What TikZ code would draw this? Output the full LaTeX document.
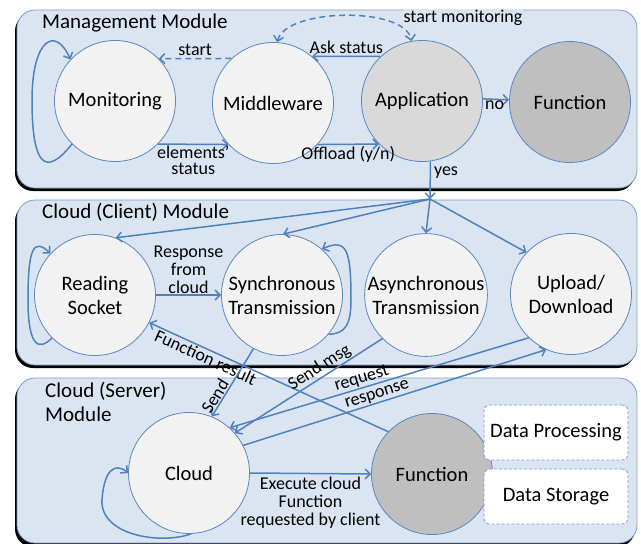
\documentclass[tikz,border=0pt]{standalone}
\usepackage{fontspec}
\setmainfont{Carlito}
\usetikzlibrary{arrows.meta}
\definecolor{boxfill}{HTML}{DBE5F1}
\definecolor{boxdraw}{HTML}{7C9CCB}
\definecolor{circd}{HTML}{5B87C0}
\definecolor{arrc}{HTML}{4F81BD}
\definecolor{lightc}{HTML}{F2F2F2}
\definecolor{appc}{HTML}{D9D9D9}
\definecolor{func}{HTML}{BFBFBF}
\begin{document}
\begin{tikzpicture}[x=1pt,y=-1pt,
  state/.style={circle, draw=circd, line width=0.8pt, minimum size=121pt, inner sep=0pt,
    align=center, font=\fontsize{20.5}{24}\selectfont, fill=lightc},
  arr/.style={draw=arrc, line width=1.5pt, -{Straight Barb[length=5pt,width=10pt]}},
  dasharr/.style={arr, dash pattern=on 6pt off 4pt},
  lbl/.style={font=\fontsize{18}{18}\selectfont, inner sep=2pt, align=center, text=black},
  modlbl/.style={font=\fontsize{21}{24}\selectfont, inner sep=0pt, align=left},
  modbox/.style={fill=boxfill, draw=boxdraw, line width=0.8pt, rounded corners=18pt},
  shadowbox/.style={fill=black, rounded corners=18pt},
  databox/.style={draw=boxdraw, dash pattern=on 3pt off 2pt, line width=0.8pt, fill=white,
    rounded corners=6pt, minimum width=144pt, minimum height=55pt, inner sep=0pt,
    font=\fontsize{20.5}{24}\selectfont}
]
\useasboundingbox (0,0) rectangle (641,544);

% module boxes
\fill[shadowbox] (15,13) rectangle (635,191);
\draw[modbox] (17,10) rectangle (637,188);
\fill[shadowbox] (15,203) rectangle (635,368);
\draw[modbox] (17,200) rectangle (637,365);
\fill[shadowbox] (15,381) rectangle (635,547);
\draw[modbox] (17,378) rectangle (637,543);

\node[modlbl, anchor=west] (mgmtlbl) at (42,23) {Management Module};
\node[modlbl, anchor=west] (clientlbl) at (42,212) {Cloud (Client) Module};
\node[modlbl, anchor=north west] (serverlbl) at (45,382) {Cloud (Server)\\Module};

% circles
\node[state] (mon) at (115,101) {Monitoring};
\node[state] (mid) at (273,103) {Middleware};
\node[state, fill=appc] (app) at (422,101) {Application};
\node[state, fill=func] (fun1) at (570,102) {Function};

\node[state] (rs) at (95,295) {Reading\\Socket};
\node[state] (sync) at (282,295) {Synchronous\\Transmission};
\node[state] (async) at (426,295) {Asynchronous\\Transmission};
\node[state] (up) at (571,294) {Upload/\\Download};

\node[state] (cloud) at (189,473) {Cloud};
\node[state, fill=func] (fun2) at (432,474) {Function};

\node[databox] (dp) at (556,432.5) {Data Processing};
\node[databox] (ds) at (556,496.5) {Data Storage};

% management module connectors
\draw[arr] (mon.225) .. controls (45,178) and (32,165) .. (32,100)
  .. controls (32,40) and (55,25) .. (mon.137);
\draw[dasharr] (mid.133) -- node[lbl, above] {start} (mon.44);
\draw[arr] (app.133) -- node[lbl, above] {Ask status} (mid.50);
\draw[arr] (mon.-45) -- node[lbl, below, inner sep=1pt] {elements’\\[-2pt]status} (mid.-137);
\draw[arr] (mid.-43) -- node[lbl, below, inner sep=1pt] {Offload (y/n)} (app.-135);
\draw[dasharr, {Straight Barb[length=5pt,width=10pt]}-{Straight Barb[length=5pt,width=10pt]}]
  (mid.86) .. controls (285,8) and (405,6) .. (app.100);
\node[lbl, fill=boxfill, inner sep=1pt] (smlbl) at (463,18) {start monitoring};
\draw[arr] (app.2) -- node[lbl, below, inner sep=1pt, pos=0.45] {no} (fun1.178);

\coordinate (J) at (430,199);
\draw[arr] (app.-82) -- node[lbl, right, pos=0.3, inner sep=3pt] {yes} (J);

% client module connectors
\draw[arr] (J) -- (rs.70);
\draw[arr] (J) -- (sync.89);
\draw[arr] (J) -- (async.90);
\draw[arr] (J) -- (up.137);

\draw[arr] (rs.225) .. controls (38,352) and (28,345) .. (28,300)
  .. controls (28,250) and (33,237) .. (rs.137);
\draw[arr] (rs.east) -- node[lbl, above, inner sep=1pt] {Response\\from\\cloud} (sync.west);
\draw[arr] (sync.-40) .. controls (345,334) and (351,325) .. (351,300)
  .. controls (351,250) and (347,238) .. (sync.49);

% cross connectors
\draw[arr] (fun2.136) -- node[lbl, sloped, below, pos=0.75, inner sep=1pt] {Function result} (rs.-27);
\draw[arr] (sync.-118) -- node[lbl, sloped, above, pos=0.76, inner sep=1pt] {Send} (cloud.68);
\draw[arr] (async.-135) -- node[lbl, sloped, above, pos=0.39, inner sep=1pt] {Send msg} (cloud.41);
\draw[arr] (up.-134) -- node[lbl, sloped, above, pos=0.55, inner sep=1pt] {request} (cloud.48);
\draw[arr] (cloud.27) -- node[lbl, sloped, above, pos=0.45, inner sep=1pt] {response} (up.-114);

% server module connectors
\draw[arr] (cloud.east) -- node[lbl, below, inner sep=3pt] {Execute cloud\\Function\\requested by client} (fun2.west);
\draw[arr] (cloud.-88) .. controls (160,545) and (100,535) .. (102,500)
  .. controls (104,470) and (115,462) .. (cloud.180);
\end{tikzpicture}
\end{document}
